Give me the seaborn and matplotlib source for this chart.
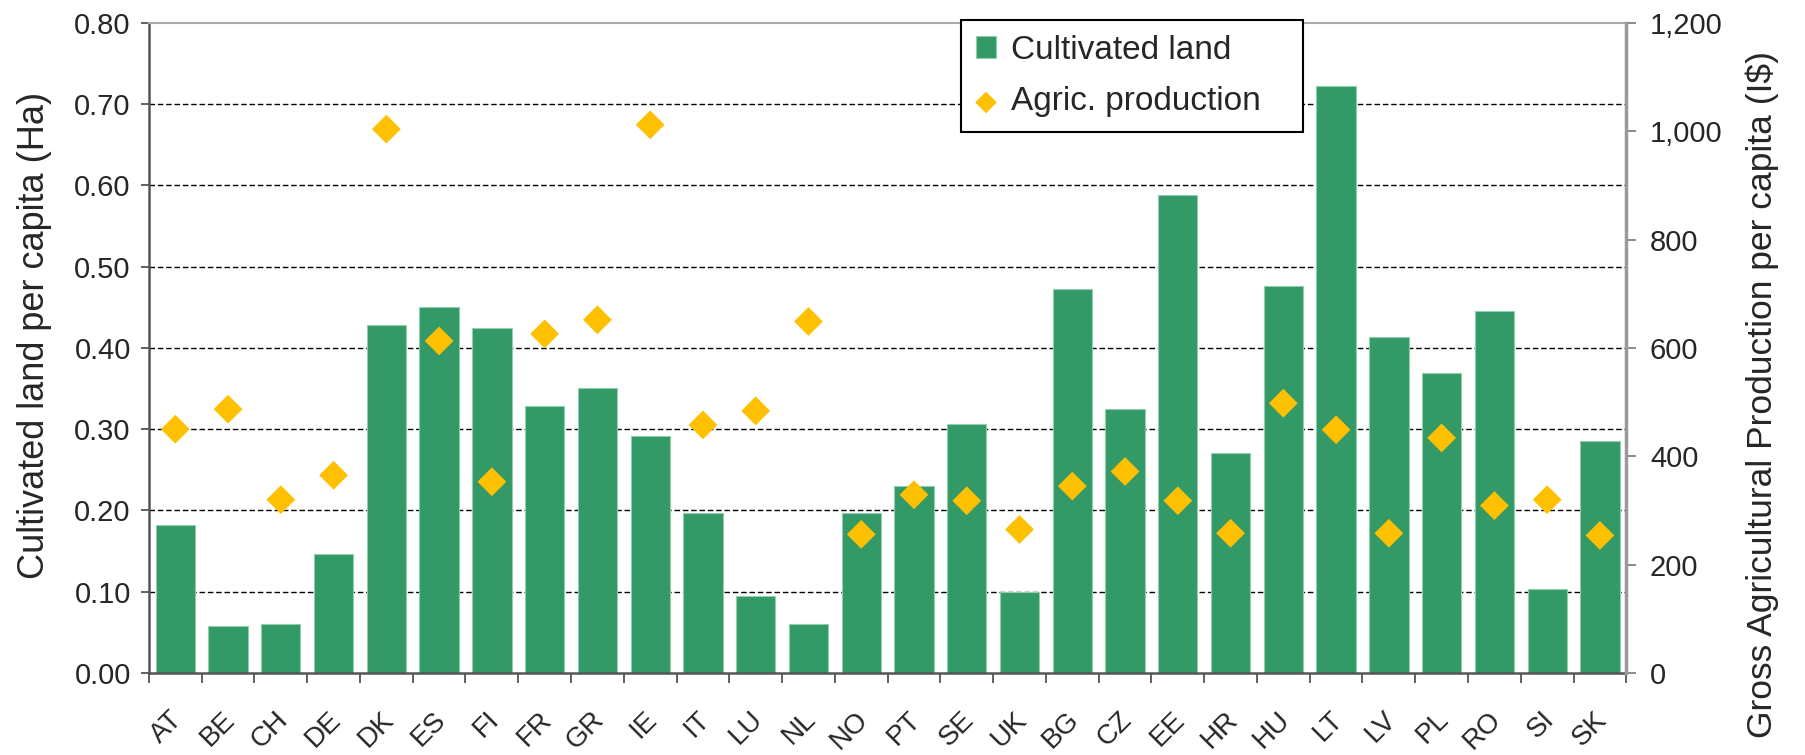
import matplotlib
matplotlib.use("Agg")
import matplotlib.pyplot as plt
import matplotlib.ticker as mticker
import matplotlib.transforms as mtransforms
import numpy as np
import pandas as pd
import seaborn as sns

# values
countries = ['AT', 'BE', 'CH', 'DE', 'DK', 'ES', 'FI', 'FR', 'GR', 'IE', 'IT', 'LU', 'NL', 'NO',
             'PT', 'SE', 'UK', 'BG', 'CZ', 'EE', 'HR', 'HU', 'LT', 'LV', 'PL', 'RO', 'SI', 'SK']
cultivated_land = [0.182, 0.058, 0.060, 0.147, 0.428, 0.451, 0.424, 0.329, 0.351, 0.292, 0.197, 0.095,
                   0.060, 0.197, 0.230, 0.307, 0.100, 0.472, 0.325, 0.588, 0.271, 0.476, 0.723, 0.414,
                   0.369, 0.446, 0.103, 0.286]
agric_production = [450, 487, 320, 365, 1004, 613, 353, 626, 652, 1012, 458, 484, 649, 256,
                     329, 318, 265, 345, 372, 318, 258, 498, 449, 258, 434, 309, 320, 254]

df = pd.DataFrame({'country': countries, 'land': cultivated_land, 'prod': agric_production})

GREEN = '#339966'
YELLOW = '#FFC000'

sns.set_style('white')
plt.rcParams['font.family'] = ['Liberation Sans', 'DejaVu Sans']

fig = plt.figure(figsize=(18.05, 7.55), dpi=100)
ax = fig.add_axes([0.0825, 0.1086, 0.8185, 0.861])

sns.barplot(data=df, x='country', y='land', color=GREEN, saturation=1, width=0.745,
            edgecolor='#8fcfac', linewidth=0.8, ax=ax, label='Cultivated land', zorder=2)

ax.set_xlim(-0.5, len(countries) - 0.5)
ax.set_ylim(0, 0.8)
ax.yaxis.set_major_locator(mticker.MultipleLocator(0.1))
ax.yaxis.set_major_formatter(mticker.FormatStrFormatter('%.2f'))
ax.set_axisbelow(True)
ax.yaxis.grid(True, color='black', linestyle=(0, (4, 2)), linewidth=1.0)
ax.set_xlabel('')
ax.set_ylabel('Cultivated land per capita (Ha)', fontsize=26, va='center')
ax.yaxis.set_label_coords(-0.0775, 0.52)
ax.tick_params(axis='y', labelsize=21, direction='out', length=6, width=1.2, color='#444444',
               left=True, pad=7)

# category ticks between bars, labels rotated
ax.set_xticks(np.arange(len(countries)))
ax.set_xticklabels(countries, rotation=45, ha='right', rotation_mode='anchor', fontsize=20)
ax.set_xticks(np.arange(len(countries) + 1) - 0.5, minor=True)
ax.tick_params(axis='x', which='major', length=0, pad=24)
ax.tick_params(axis='x', which='minor', length=7, width=1.2, color='#444444', bottom=True, direction='out')
shift = mtransforms.ScaledTranslation(-6 / 100, 0, fig.dpi_scale_trans)
for lab in ax.get_xticklabels():
    lab.set_transform(lab.get_transform() + shift)

for s in ['left', 'bottom']:
    ax.spines[s].set_color('#555555')
    ax.spines[s].set_linewidth(1.8)
ax.spines['top'].set_color('#aaaaaa')
ax.spines['top'].set_linewidth(1.5)
ax.spines['right'].set_visible(False)

ax2 = ax.twinx()
sns.scatterplot(data=df, x='country', y='prod', marker='D', s=215, color=YELLOW,
                edgecolor='none', ax=ax2, label='Agric. production', zorder=3)
ax2.set_ylim(0, 1200)
ax2.yaxis.set_major_locator(mticker.MultipleLocator(200))
ax2.yaxis.set_major_formatter(mticker.StrMethodFormatter('{x:,.0f}'))
ax2.set_ylabel('Gross Agricultural Production per capita (I$)', fontsize=25.5, va='center')
ax2.yaxis.set_label_coords(1.092, 0.429)
ax2.tick_params(axis='y', labelsize=21, direction='out', length=7, width=1.2, color='#777777',
                right=True, pad=10)
ax2.spines['right'].set_color('#999999')
ax2.spines['right'].set_linewidth(2.5)
for s in ['left', 'bottom', 'top']:
    ax2.spines[s].set_visible(False)

# no dashed line on the frame edges
fig.canvas.draw()
for t in ax.yaxis.get_major_ticks():
    if abs(t.get_loc()) < 1e-9 or abs(t.get_loc() - 0.8) < 1e-9:
        t.gridline.set_visible(False)

h1, l1 = ax.get_legend_handles_labels()
h2, l2 = ax2.get_legend_handles_labels()
if ax.get_legend():
    ax.get_legend().remove()
leg = ax2.legend(h1 + h2, l1 + l2, loc='upper left', bbox_to_anchor=(0.5497, 0.5, 0.2316, 0.505),
                 mode='expand', fontsize=24,
                 frameon=True, fancybox=False, edgecolor='black', framealpha=1,
                 handlelength=0.6, handleheight=0.6, handletextpad=0.45, borderpad=0.45,
                 labelspacing=0.62, borderaxespad=0, markerscale=0.75)
leg.get_frame().set_linewidth(1.5)

fig.savefig('out.png', dpi=100)
